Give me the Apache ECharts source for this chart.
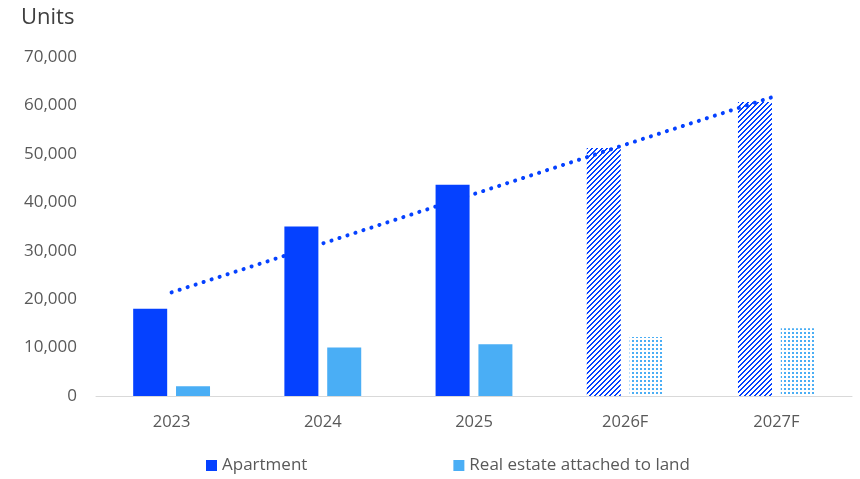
<!DOCTYPE html>
<html>
<head>
<meta charset="utf-8">
<script src="https://cdn.jsdelivr.net/npm/echarts@6/dist/echarts.min.js"></script>
<style>
  html, body { margin: 0; padding: 0; background: #ffffff; }
  #chart { width: 860px; height: 479px; }
</style>
</head>
<body>
<div id="chart"></div>
<script>
// Housing supply by type, with forecast years
const categories = ['2023', '2024', '2025', '2026F', '2027F'];
const apartment = [18000, 35000, 43600, 51200, 60700];
const landAttached = [2000, 10000, 10700, 12200, 14000];
// Linear trend of apartment supply, value at each year
const apartmentTrend = [21400, 31500, 41700, 51900, 62000];
const forecastFrom = 3; // index of first forecast year

const FONT = '"Open Sans", "Noto Sans", sans-serif';
const BLUE = '#0541FF';
const LIGHT = '#4AAEF5';

// Diagonal hatch tile (2px-thick upward stripes) for forecast apartment bars
function hatchTile(color) {
  const n = 5;
  const c = document.createElement('canvas');
  c.width = n; c.height = n;
  const g = c.getContext('2d');
  g.fillStyle = color;
  for (let y = 0; y < n; y++) {
    const x = n - 1 - y;
    g.fillRect(x, y, 1, 1);
    g.fillRect((x + 1) % n, y, 1, 1);
  }
  return { image: c, repeat: 'repeat' };
}
// Dotted tile for forecast land-attached bars
function dotTile(color) {
  const c = document.createElement('canvas');
  c.width = 4; c.height = 4;
  const g = c.getContext('2d');
  g.fillStyle = color;
  g.fillRect(0, 0, 2, 2);
  return { image: c, repeat: 'repeat' };
}

const aptData = apartment.map((v, i) =>
  i >= forecastFrom ? { value: v, itemStyle: { color: hatchTile(BLUE) } } : v);
const landData = landAttached.map((v, i) =>
  i >= forecastFrom ? { value: v, itemStyle: { color: dotTile(LIGHT) } } : v);

const chart = echarts.init(document.getElementById('chart'), null, { renderer: 'canvas' });
chart.setOption({
  animation: false,
  backgroundColor: '#ffffff',
  textStyle: { fontFamily: FONT },
  title: {
    text: 'Units', left: 16, top: 2,
    textStyle: { fontFamily: FONT, fontSize: 22, fontWeight: 'normal', color: '#404040' }
  },
  grid: { left: 96, right: 8, top: 57, bottom: 83 },
  legend: {
    data: ['Apartment', 'Real estate attached to land'],
    bottom: 0, left: 201,
    itemWidth: 11, itemHeight: 11, itemGap: 146,
    icon: 'rect',
    textStyle: { fontFamily: FONT, fontSize: 17, color: '#595959' }
  },
  xAxis: {
    type: 'category',
    data: categories,
    axisLine: { lineStyle: { color: '#d9d9d9', width: 1 } },
    axisTick: { show: false },
    axisLabel: { fontFamily: FONT, fontSize: 16.5, color: '#595959', margin: 18 }
  },
  yAxis: {
    type: 'value', min: 0, max: 70000, interval: 10000,
    splitLine: { show: false },
    axisLine: { show: false },
    axisTick: { show: false },
    axisLabel: {
      fontFamily: FONT, fontSize: 17, color: '#595959', margin: 19,
      formatter: v => v.toLocaleString('en-US')
    }
  },
  series: [
    {
      name: 'Trend', type: 'line', data: apartmentTrend,
      z: 1, symbol: 'none', silent: true,
      lineStyle: { color: BLUE, width: 4, type: [0.1, 8.3], cap: 'round' }
    },
    {
      name: 'Apartment', type: 'bar', data: aptData, z: 2,
      barWidth: 34, barGap: '26%',
      itemStyle: { color: BLUE }
    },
    {
      name: 'Real estate attached to land', type: 'bar', data: landData, z: 2,
      barWidth: 34, barGap: '26%',
      itemStyle: { color: LIGHT }
    }
  ]
});
</script>
</body>
</html>
